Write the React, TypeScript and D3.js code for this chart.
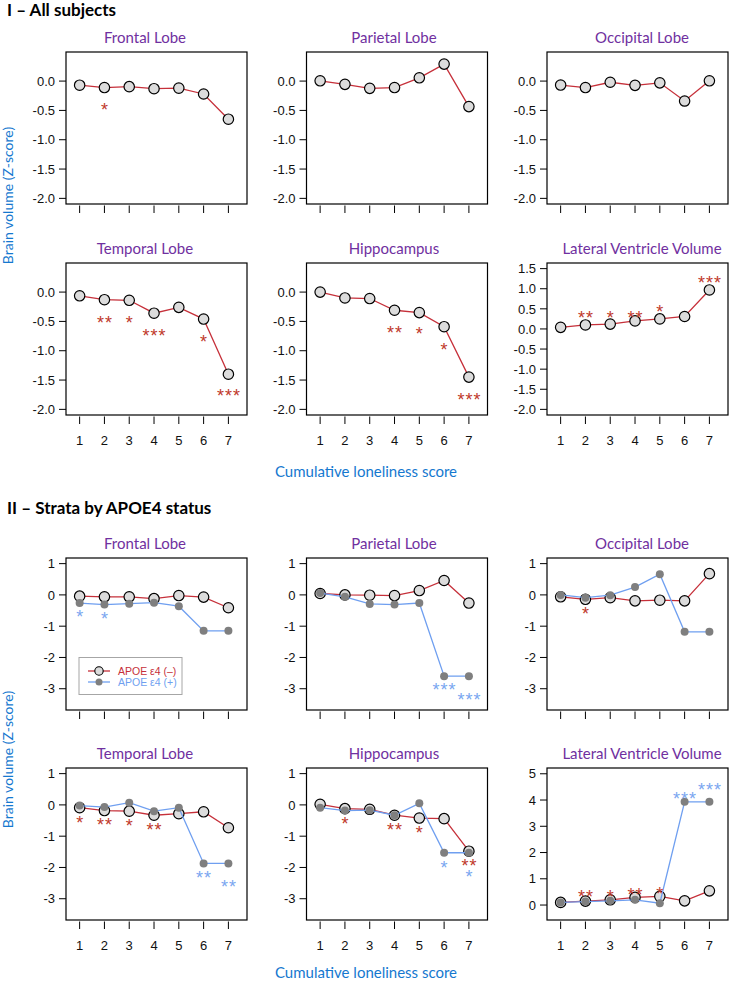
import React from 'react';
import * as d3 from 'd3';

// ---------- data ----------
const xValues = [1, 2, 3, 4, 5, 6, 7];

// Section I – all subjects
const allFrontal = [-0.07, -0.11, -0.095, -0.13, -0.12, -0.22, -0.65];
const allParietal = [0.005, -0.056, -0.124, -0.11, 0.056, 0.29, -0.435];
const allOccipital = [-0.068, -0.11, -0.02, -0.073, -0.03, -0.34, 0.005];
const allTemporal = [-0.063, -0.13, -0.14, -0.36, -0.26, -0.46, -1.4];
const allHippocampus = [0.0, -0.1, -0.11, -0.31, -0.35, -0.59, -1.45];
const allVentricle = [0.04, 0.1, 0.12, 0.2, 0.25, 0.31, 0.97];

// significance marks: [x, y (z-score units), label]
const allFrontalStars: [number, number, string][] = [[2, -0.42, '*']];
const allTemporalStars: [number, number, string][] = [
  [2, -0.46, '**'], [3, -0.46, '*'], [4, -0.68, '***'], [6, -0.78, '*'], [7, -1.7, '***'],
];
const allHippocampusStars: [number, number, string][] = [
  [4, -0.63, '**'], [5, -0.65, '*'], [6, -0.91, '*'], [7, -1.76, '***'],
];
const allVentricleStars: [number, number, string][] = [
  [2, 0.37, '**'], [3, 0.39, '*'], [4, 0.37, '**'], [5, 0.53, '*'], [7, 1.26, '***'],
];

// Section II – APOE e4 (–) and (+)
const negFrontal = [-0.04, -0.06, -0.06, -0.12, -0.02, -0.07, -0.41];
const posFrontal = [-0.26, -0.31, -0.28, -0.25, -0.36, -1.15, -1.15];
const negParietal = [0.045, 0.0, -0.01, -0.02, 0.14, 0.46, -0.26];
const posParietal = [0.06, -0.06, -0.29, -0.31, -0.26, -2.6, -2.6];
const negOccipital = [-0.06, -0.14, -0.09, -0.19, -0.17, -0.19, 0.68];
const posOccipital = [0.0, -0.09, -0.01, 0.25, 0.66, -1.18, -1.18];
const negTemporal = [-0.09, -0.18, -0.2, -0.33, -0.28, -0.22, -0.73];
const posTemporal = [-0.02, -0.07, 0.07, -0.2, -0.09, -1.87, -1.87];
const negHippocampus = [0.02, -0.12, -0.14, -0.33, -0.42, -0.44, -1.48];
const posHippocampus = [-0.09, -0.18, -0.17, -0.33, 0.05, -1.53, -1.53];
const negVentricle = [0.1, 0.15, 0.2, 0.29, 0.33, 0.16, 0.54];
const posVentricle = [0.1, 0.13, 0.16, 0.2, 0.07, 3.93, 3.93];

const posFrontalStars: [number, number, string][] = [[1, -0.58, '*'], [2, -0.62, '*']];
const posParietalStars: [number, number, string][] = [[6, -2.91, '***'], [7, -3.23, '***']];
const negOccipitalStars: [number, number, string][] = [[2, -0.47, '*']];
const negTemporalStars: [number, number, string][] = [
  [1, -0.43, '*'], [2, -0.52, '**'], [3, -0.54, '*'], [4, -0.68, '**'],
];
const posTemporalStars: [number, number, string][] = [[6, -2.19, '**'], [7, -2.49, '**']];
const negHippocampusStars: [number, number, string][] = [
  [2, -0.49, '*'], [4, -0.68, '**'], [5, -0.76, '*'], [7, -1.82, '**'],
];
const posHippocampusStars: [number, number, string][] = [[6, -1.88, '*'], [7, -2.18, '*']];
const negVentricleStars: [number, number, string][] = [
  [2, 0.45, '**'], [3, 0.45, '*'], [4, 0.55, '**'], [5, 0.6, '*'],
];
const posVentricleStars: [number, number, string][] = [[6, 4.21, '***'], [7, 4.53, '***']];

const ticksAllStd = [0, -0.5, -1, -1.5, -2];
const ticksAllVent = [1.5, 1, 0.5, 0, -0.5, -1, -1.5, -2];
const ticksApoeStd = [1, 0, -1, -2, -3];
const ticksApoeVent = [0, 1, 2, 3, 4, 5];

const sectionTitles = ['I \u2013 All subjects', 'II \u2013 Strata by APOE4 status'];
const regionTitles = ['Frontal Lobe', 'Parietal Lobe', 'Occipital Lobe', 'Temporal Lobe', 'Hippocampus', 'Lateral Ventricle Volume'];
const legendLabels = ['APOE \u03b54 (\u2013)', 'APOE \u03b54 (+)'];
const yAxisTitle = 'Brain volume (Z-score)';
const xAxisTitle = 'Cumulative loneliness score';

// ---------- style / layout ----------
const W = 739;
const H = 982;
const COL_X = [66, 306.5, 547];
const ROW_TOP = [52, 263, 558, 768];
const BOX_W = 181;
const BOX_H = 152;
const X_DOMAIN: [number, number] = [0.45, 7.75];
const TITLE_CX = [145, 394, 642];

const RED = '#c6303a';
const BLUE = '#6f9ff0';
const STAR_RED = '#c0392b';
const STAR_BLUE = '#7aa6f0';
const PURPLE = '#7030a0';
const AXIS_BLUE = '#1578cf';
const UI_FONT = "Lato, 'Open Sans', sans-serif";
const R_FONT = "'Liberation Sans', Arial, sans-serif";

type Stars = [number, number, string][];
interface Panel {
  title: string;
  domain: [number, number];
  ticks: number[];
  fmt: (v: number) => string;
  neg: number[];
  pos?: number[];
  negStars: Stars;
  posStars?: Stars;
  legend?: boolean;
  xLabels: boolean;
}

const f1 = d3.format('.1f');
const f0 = (v: number) => d3.format('d')(v).replace('\u2212', '-');
const fmtAll = (v: number) => f1(v).replace('\u2212', '-');

const panels: { p: Panel; col: number; row: number }[] = [
  { col: 0, row: 0, p: { title: regionTitles[0], domain: [-2.096, 0.496], ticks: ticksAllStd, fmt: fmtAll, neg: allFrontal, negStars: allFrontalStars, xLabels: false } },
  { col: 1, row: 0, p: { title: regionTitles[1], domain: [-2.096, 0.496], ticks: ticksAllStd, fmt: fmtAll, neg: allParietal, negStars: [], xLabels: false } },
  { col: 2, row: 0, p: { title: regionTitles[2], domain: [-2.096, 0.496], ticks: ticksAllStd, fmt: fmtAll, neg: allOccipital, negStars: [], xLabels: false } },
  { col: 0, row: 1, p: { title: regionTitles[3], domain: [-2.096, 0.496], ticks: ticksAllStd, fmt: fmtAll, neg: allTemporal, negStars: allTemporalStars, xLabels: true } },
  { col: 1, row: 1, p: { title: regionTitles[4], domain: [-2.096, 0.496], ticks: ticksAllStd, fmt: fmtAll, neg: allHippocampus, negStars: allHippocampusStars, xLabels: true } },
  { col: 2, row: 1, p: { title: regionTitles[5], domain: [-2.14, 1.64], ticks: ticksAllVent, fmt: fmtAll, neg: allVentricle, negStars: allVentricleStars, xLabels: true } },
  { col: 0, row: 2, p: { title: regionTitles[0], domain: [-3.68, 1.18], ticks: ticksApoeStd, fmt: f0, neg: negFrontal, pos: posFrontal, negStars: [], posStars: posFrontalStars, legend: true, xLabels: false } },
  { col: 1, row: 2, p: { title: regionTitles[1], domain: [-3.68, 1.18], ticks: ticksApoeStd, fmt: f0, neg: negParietal, pos: posParietal, negStars: [], posStars: posParietalStars, xLabels: false } },
  { col: 2, row: 2, p: { title: regionTitles[2], domain: [-3.68, 1.18], ticks: ticksApoeStd, fmt: f0, neg: negOccipital, pos: posOccipital, negStars: negOccipitalStars, posStars: [], xLabels: false } },
  { col: 0, row: 3, p: { title: regionTitles[3], domain: [-3.68, 1.18], ticks: ticksApoeStd, fmt: f0, neg: negTemporal, pos: posTemporal, negStars: negTemporalStars, posStars: posTemporalStars, xLabels: true } },
  { col: 1, row: 3, p: { title: regionTitles[4], domain: [-3.68, 1.18], ticks: ticksApoeStd, fmt: f0, neg: negHippocampus, pos: posHippocampus, negStars: negHippocampusStars, posStars: posHippocampusStars, xLabels: true } },
  { col: 2, row: 3, p: { title: regionTitles[5], domain: [-0.57, 5.22], ticks: ticksApoeVent, fmt: f0, neg: negVentricle, pos: posVentricle, negStars: negVentricleStars, posStars: posVentricleStars, xLabels: true } },
];

const STAR_FS = 18;

function StarMarks({ stars, x, y, color }: { stars: Stars; x: d3.ScaleLinear<number, number>; y: d3.ScaleLinear<number, number>; color: string }) {
  return (
    <g>
      {stars.map(([sx, sy, lab], i) => (
        <text key={i} x={x(sx) + 0.5} y={y(sy) + STAR_FS * 0.57} textAnchor="middle" fontFamily={R_FONT} fontSize={STAR_FS} letterSpacing={1} fill={color}>
          {lab}
        </text>
      ))}
    </g>
  );
}

function PanelView({ p, col, row }: { p: Panel; col: number; row: number }) {
  const x0 = COL_X[col];
  const y0 = ROW_TOP[row];
  const x = d3.scaleLinear().domain(X_DOMAIN).range([x0, x0 + BOX_W]);
  const y = d3.scaleLinear().domain(p.domain).range([y0 + BOX_H, y0]);
  const line = d3.line<number>().x((_, i) => x(xValues[i])).y((d) => y(d));
  const bottom = y0 + BOX_H;
  return (
    <g>
      <text x={TITLE_CX[col]} y={y0 - 9} textAnchor="middle" fontFamily={UI_FONT} fontSize={15} fill={PURPLE}>
        {p.title}
      </text>
      {/* y axis */}
      {p.ticks.map((t) => (
        <g key={t}>
          <line x1={x0 - 7} x2={x0} y1={y(t)} y2={y(t)} stroke="#000" strokeWidth={1} />
          <text x={x0 - 11} y={y(t)} dy="0.36em" textAnchor="end" fontFamily={R_FONT} fontSize={13} fill="#111">
            {p.fmt(t)}
          </text>
        </g>
      ))}
      {/* x axis */}
      {xValues.map((v) => (
        <g key={v}>
          <line x1={x(v)} x2={x(v)} y1={bottom + 1.5} y2={bottom + 9} stroke="#000" strokeWidth={1} />
          {p.xLabels && (
            <text x={x(v)} y={bottom + 30} textAnchor="middle" fontFamily={R_FONT} fontSize={13} fill="#111">
              {v}
            </text>
          )}
        </g>
      ))}
      <rect x={x0} y={y0} width={BOX_W} height={BOX_H} fill="none" stroke="#000" strokeWidth={1.2} />
      {/* APOE e4 (–) / all subjects */}
      <path d={line(p.neg) || ''} fill="none" stroke={RED} strokeWidth={1.3} />
      {p.neg.map((v, i) => (
        <circle key={i} cx={x(xValues[i])} cy={y(v)} r={5.2} fill="#dcdcdc" stroke="#000" strokeWidth={1.2} />
      ))}
      {/* APOE e4 (+) */}
      {p.pos && <path d={line(p.pos) || ''} fill="none" stroke={BLUE} strokeWidth={1.3} />}
      {p.pos &&
        p.pos.map((v, i) => <circle key={i} cx={x(xValues[i])} cy={y(v)} r={4} fill="#7f7f7f" />)}
      <StarMarks stars={p.negStars} x={x} y={y} color={STAR_RED} />
      {p.posStars && <StarMarks stars={p.posStars} x={x} y={y} color={STAR_BLUE} />}
      {p.legend && (
        <g>
          <rect x={x0 + 13} y={y0 + 99.5} width={103} height={37} fill="#fff" stroke="#a6a6a6" strokeWidth={1} />
          <line x1={x0 + 22} x2={x0 + 44} y1={y0 + 113} y2={y0 + 113} stroke={RED} strokeWidth={1.3} />
          <circle cx={x0 + 33} cy={y0 + 113} r={4.2} fill="#dcdcdc" stroke="#000" strokeWidth={1.1} />
          <text x={x0 + 52} y={y0 + 113} dy="0.36em" fontFamily={R_FONT} fontSize={10.5} fill={RED}>
            {legendLabels[0]}
          </text>
          <line x1={x0 + 22} x2={x0 + 44} y1={y0 + 124} y2={y0 + 124} stroke={BLUE} strokeWidth={1.3} />
          <circle cx={x0 + 33} cy={y0 + 124} r={3.5} fill="#7f7f7f" />
          <text x={x0 + 52} y={y0 + 124} dy="0.36em" fontFamily={R_FONT} fontSize={10.5} fill={BLUE}>
            {legendLabels[1]}
          </text>
        </g>
      )}
    </g>
  );
}

export default function App() {
  return (
    <div style={{ position: 'absolute', left: 0, top: 0 }}>
      <svg width={W} height={H} style={{ display: 'block', background: '#fff' }}>
        <text x={7} y={16} fontFamily={UI_FONT} fontWeight={700} fontSize={17} fill="#000">
          {sectionTitles[0]}
        </text>
        <text x={7} y={514} fontFamily={UI_FONT} fontWeight={700} fontSize={17} fill="#000">
          {sectionTitles[1]}
        </text>
        {panels.map((d, i) => (
          <PanelView key={i} p={d.p} col={d.col} row={d.row} />
        ))}
        <text transform="translate(13,195.5) rotate(-90)" textAnchor="middle" fontFamily={UI_FONT} fontSize={14} fill={AXIS_BLUE}>
          {yAxisTitle}
        </text>
        <text transform="translate(13,759.5) rotate(-90)" textAnchor="middle" fontFamily={UI_FONT} fontSize={14} fill={AXIS_BLUE}>
          {yAxisTitle}
        </text>
        <text x={366} y={477} textAnchor="middle" fontFamily={UI_FONT} fontSize={15} fill={AXIS_BLUE}>
          {xAxisTitle}
        </text>
        <text x={366} y={978} textAnchor="middle" fontFamily={UI_FONT} fontSize={15} fill={AXIS_BLUE}>
          {xAxisTitle}
        </text>
      </svg>
    </div>
  );
}
